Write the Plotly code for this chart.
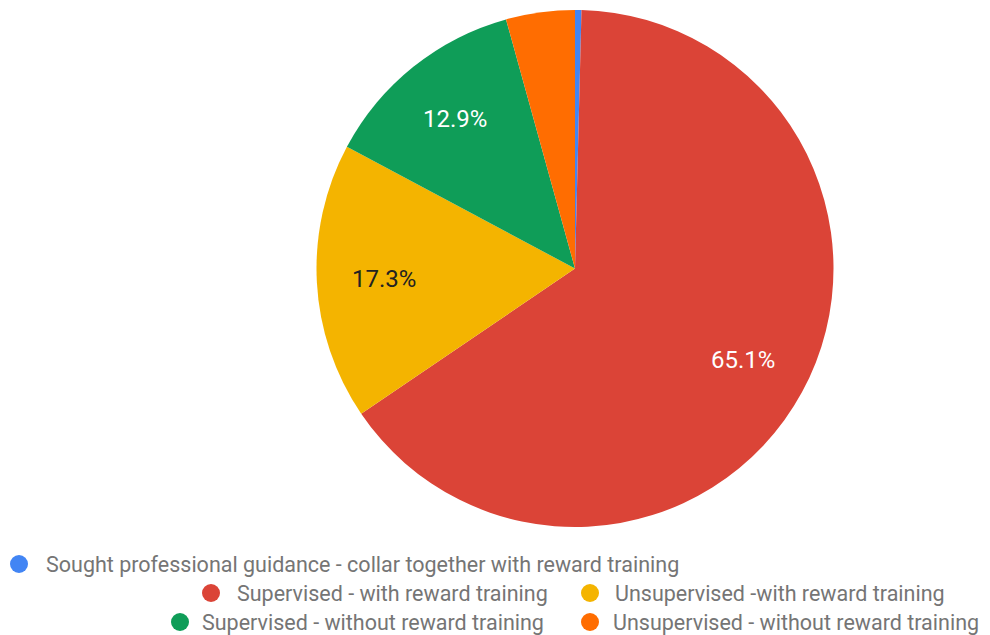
import math
import plotly.graph_objects as go

labels = [
    "Sought professional guidance - collar together with reward training",
    "Supervised - with reward training",
    "Unsupervised -with reward training",
    "Supervised - without reward training",
    "Unsupervised - without reward training",
]
values = [0.4, 65.1, 17.3, 12.9, 4.3]
colors = ["#4285F4", "#DB4437", "#F4B400", "#0F9D58", "#FF6D01"]
label_shown = [False, True, True, True, False]
label_font_colors = ["#FFFFFF", "#FFFFFF", "#222222", "#FFFFFF", "#FFFFFF"]

# The page body has an 8px margin, so the figure is drawn 8px in from the corner
OFF = 8
W, H = 990 - OFF, 635 - OFF


def px(x):
    return (x - OFF) / W


def py(y):
    return 1 - (y - OFF) / H


# Pie geometry (reference pixels)
CX, CY, R = 575, 268.5, 258.5

fig = go.Figure(go.Pie(
    labels=labels,
    values=values,
    marker=dict(colors=colors, line=dict(width=0)),
    sort=False,
    direction="clockwise",
    rotation=0,
    textinfo="none",
    hoverinfo="label+percent",
    domain=dict(x=[px(CX - R), px(CX + R)], y=[py(CY + R), py(CY - R)]),
    showlegend=False,
))

annotations = []
shapes = []

# Slice percentage labels, placed Google-Charts style at ~0.74 of the radius
total = sum(values)
cum = 0.0
for v, show, fc in zip(values, label_shown, label_font_colors):
    mid = (cum + v / 2) / total * 2 * math.pi
    cum += v
    if not show:
        continue
    lx = CX + 0.74 * R * math.sin(mid)
    ly = CY - 0.74 * R * math.cos(mid)
    annotations.append(dict(
        x=px(lx), y=py(ly), xref="paper", yref="paper",
        text=f"{v / total * 100:.1f}%", showarrow=False,
        xanchor="center", yanchor="middle",
        font=dict(family="Roboto", size=24, color=fc),
    ))

# Manual legend matching the reference's centred, wrapped layout
legend_layout = [
    # (circle centre x, text start x, centre y) in reference pixels
    (19, 45, 564),
    (211, 236, 593),
    (590, 614, 593),
    (180, 201, 622),
    (590, 612, 622),
]
r = 9
for (cx, tx, cy), lab, col in zip(legend_layout, labels, colors):
    shapes.append(dict(
        type="circle", xref="paper", yref="paper",
        x0=px(cx - r), x1=px(cx + r),
        y0=py(cy + r), y1=py(cy - r),
        fillcolor=col, line=dict(width=0),
    ))
    annotations.append(dict(
        x=px(tx), y=py(cy), xref="paper", yref="paper",
        text=lab, showarrow=False, xanchor="left", yanchor="middle",
        xshift=-1,
        font=dict(family="Roboto", size=21.5, color="#757575"),
    ))

fig.update_layout(
    width=W, height=H,
    margin=dict(l=0, r=0, t=0, b=0),
    paper_bgcolor="white",
    plot_bgcolor="white",
    shapes=shapes,
    annotations=annotations,
)

fig.write_html("out.html")
